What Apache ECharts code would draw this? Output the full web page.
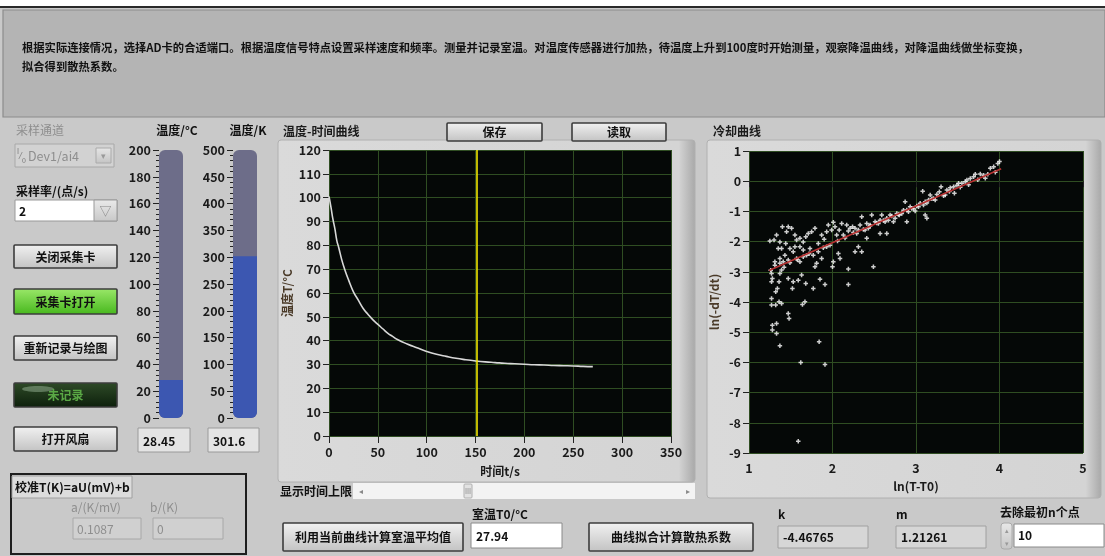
<!DOCTYPE html>
<html><head><meta charset="utf-8">
<script src="https://cdn.jsdelivr.net/npm/echarts/dist/echarts.min.js"></script>
<style>html,body{margin:0;padding:0;background:#fff}#c{width:1105px;height:556px}</style>
</head><body><div id="c"></div>
<script>
// ---------- data ----------
const instructionLine1 = '根据实际连接情况，选择AD卡的合适端口。根据温度信号特点设置采样速度和频率。测量并记录室温。对温度传感器进行加热，待温度上升到100度时开始测量，观察降温曲线，对降温曲线做坐标变换，';
const instructionLine2 = '拟合得到散热系数。';
const timeS = [0,2,4,6,8,10,13,16,20,25,30,35,40,45,50,55,60,65,70,80,90,100,110,120,130,140,150,160,170,180,190,200,210,220,230,240,250,260,270];
const tempC = [100.5,96,91,87,82,79,74,70,65.5,60.5,57,53.5,51,48.7,46.8,45,43.2,41.8,40.5,38.6,37,35.5,34.3,33.4,32.6,32,31.5,31.1,30.8,30.5,30.3,30.1,29.9,29.8,29.6,29.5,29.4,29.2,29.1];
const cursorTime = 151.5;
const timeTicks = {min:0,max:350,interval:50};
const tempTicks = {min:0,max:120,interval:10};
const lnDiff = [4.0,3.98,3.93,3.89,3.86,3.81,3.77,3.71,3.69,3.65,3.61,3.59,3.55,3.51,3.49,3.45,3.46,3.41,3.37,3.35,3.30,3.28,3.25,3.23,3.21,3.17,3.15,3.11,3.08,3.09,3.05,3.03,2.99,2.97,2.93,2.91,2.87,2.85,2.83,2.80,2.77,2.75,2.73,2.69,2.67,2.65,2.63,2.59,2.57,2.55,2.51,2.47,2.45,2.43,2.41,2.39,2.35,2.33,2.31,2.29,2.27,2.24,2.21,2.19,2.17,2.13,2.11,2.08,2.05,2.03,2.01,1.99,1.95,1.93,1.90,1.87,1.83,1.79,1.75,1.71,1.68,1.65,1.61,1.57,1.55,1.51,1.47,1.45,1.40,1.37,1.33,1.30,1.25,
  2.07,2.09,2.01,2.00,2.19,2.49,2.35,2.31,2.19,1.91,1.85,1.77,1.68,1.63,1.59,1.53,1.52,1.47,1.41,1.39,1.37,1.36,1.34,1.32,1.31,1.28,1.27,1.27,1.27,1.27,1.32,1.36,1.39,1.33,1.28,1.28,1.33,1.37,1.47,1.48,1.64,1.67,1.84,1.62,1.91,1.59,1.37,1.43,1.47,1.53,1.61,1.65,1.69,1.73,1.77,1.81,1.83,1.87,1.93,1.79,1.61,1.57,1.35,1.39,1.49,1.55,1.65,1.44,1.37,1.31,
  2.27,2.41,2.57,2.65,2.89,3.11,3.13,3.95,3.83,3.74,3.63,3.53,3.40,3.33,3.19,3.13,3.01,2.95,2.89,2.79,2.71,2.61,2.53,2.45,2.37,2.25,2.15,2.06,1.97,1.89,1.72,1.58,1.49,1.42,1.26];
const lnRate = [0.65,0.59,0.48,0.43,0.23,0.20,0.24,0.23,0.15,0.09,0.04,-0.02,-0.07,-0.07,-0.13,-0.18,-0.40,-0.22,-0.29,-0.46,-0.18,-0.35,-0.44,-0.62,-0.57,-0.46,-0.62,-0.68,-0.33,-0.79,-0.73,-0.85,-0.99,-0.90,-0.85,-1.01,-0.68,-0.96,-1.07,-1.12,-1.07,-1.23,-1.34,-1.12,-1.29,-1.23,-1.34,-1.12,-1.29,-1.40,-1.34,-1.12,-1.45,-1.56,-1.40,-1.62,-1.18,-1.45,-1.62,-1.73,-1.56,-1.51,-1.56,-1.65,-1.45,-1.78,-1.40,-1.62,-1.78,-1.51,-1.36,-1.62,-1.45,-1.67,-1.92,-1.78,-2.06,-1.56,-1.67,-1.73,-1.84,-2.01,-1.89,-1.95,-1.78,-1.56,-1.51,-1.67,-1.51,-2.01,-1.78,-1.95,-1.98,
  -2.39,-2.56,-2.67,-2.83,-2.91,-2.83,-2.34,-2.17,-3.42,-3.42,-3.25,-3.55,-3.39,-3.11,-3.28,-3.33,-3.55,-3.22,-2.67,-2.94,-3.06,-3.33,-3.55,-3.66,-2.78,-3.22,-3.06,-3.33,-3.88,-4.10,-4.10,-3.99,-4.05,-4.71,-4.77,-4.93,-5.04,-5.45,-4.38,-4.55,-4.08,-3.99,-5.32,-6.0,-6.07,-8.61,-2.72,-2.45,-2.61,-2.34,-2.17,-2.28,-2.45,-2.23,-2.45,-2.72,-2.34,-2.56,-2.17,-2.83,-2.67,-2.56,-2.23,-2.23,-2.23,-2.17,-2.50,-2.06,-2.56,-2.67,
  -2.34,-1.89,-1.73,-1.73,-1.34,-1.12,-1.23,0.30,0.10,0.05,-0.12,-0.20,-0.34,-0.48,-0.58,-0.72,-0.82,-0.90,-0.95,-1.10,-1.15,-1.30,-1.38,-1.48,-1.60,-1.70,-1.88,-1.98,-2.12,-2.20,-2.40,-2.60,-2.70,-2.85,-2.95];
const fitLine = [[1.24,-2.96],[4.02,0.41]];
const lnXTicks = {min:1,max:5,interval:1};
const lnYTicks = {min:-9,max:1,interval:1};
const tempCNow = 28.45, tempKNow = 301.6;
const scaleC = {min:0,max:200,interval:20};
const scaleK = {min:0,max:500,interval:50};
const roomTemp = '27.94', fitK = '-4.46765', fitM = '1.21261', dropN = '10';
const calibA = '0.1087', calibB = '0', sampleRate = '2', channel = 'Dev1/ai4';

// ---------- helpers ----------
const F = '"Noto Sans CJK SC","Noto Sans",sans-serif';
function R(x,y,w,h,fill,stroke,lw,r,z){return {type:'rect',silent:true,z:z==null?-5:z,shape:{x:x,y:y,width:w,height:h,r:r||0},style:{fill:fill,stroke:stroke||null,lineWidth:lw||0}};}
function T(x,y,s,size,color,weight,align,z){return {type:'text',silent:true,z:z==null?10:z,x:x,y:y,style:{text:s,fill:color||'#111',font:(weight||'bold')+' '+(size||12)+'px '+F,textAlign:align||'left',textVerticalAlign:'middle',align:align||'left',verticalAlign:'middle'}};}
function grad(a,b){return {type:'linear',x:0,y:0,x2:0,y2:1,colorStops:[{offset:0,color:a},{offset:1,color:b}]};}
function button(x,y,w,h,label,fill,color){
  return [R(x,y,w,h,fill||grad('#f2f2f2','#c2c2c2'),'#3c3c3c',1.6,1,5), T(x+w/2,y+h/2+0.5,label,12,color||'#111','bold','center',11)];
}
const g = [];
// page background
g.push(R(0,0,1105,556,'#c9c9c9',null,0,0,-20));
g.push(R(0,0,1105,6,'#ffffff',null,0,0,-19));
g.push(R(0,6,1105,2,'#2a2a2a',null,0,0,-19));
// instruction panel
g.push(R(3,10,1102,107,'#b4b4b4','#8c8c8c',1.2,0,-18));
g.push(T(22,48,instructionLine1,11.3,'#111','bold'));
g.push(T(22,67,instructionLine2,11.3,'#111','bold'));
// chart frames
g.push(R(278,140,417,342,{type:'linear',x:0,y:0,x2:1,y2:0,colorStops:[{offset:0,color:'#dadada'},{offset:0.96,color:'#d4d4d4'},{offset:1,color:'#a8a8a8'}]},'#b0b0b0',1,3,-15));
g.push(R(707,140,394,358,{type:'linear',x:0,y:0,x2:1,y2:0,colorStops:[{offset:0,color:'#dadada'},{offset:0.96,color:'#d4d4d4'},{offset:1,color:'#a8a8a8'}]},'#b0b0b0',1,3,-15));
g.push(T(283,131,'温度-时间曲线',12,'#1a1a1a'));
g.push(T(713,131,'冷却曲线',12,'#1a1a1a'));
g.push(...button(447,123,95,18,'保存'));
g.push(...button(572,123,94,18,'读取'));
// left controls
g.push(T(16,130,'采样通道',12,'#8e8e8e','normal'));
g.push(R(15,144,99,23,'#d2d2d2','#a8a8a8',1,0,5));
g.push(T(17,151,'I',7,'#777','normal','left',11));
g.push(T(20,156,'⁄',8,'#777','normal','left',11));
g.push(T(22,160,'0',7,'#777','normal','left',11));
g.push(T(28,156,channel,12.5,'#8e8e8e','normal','left',11));
g.push(R(96,148,15,15,grad('#e6e6e6','#c4c4c4'),'#aaa',1,0,6));
g.push(T(103.5,156,'▾',9,'#999','normal','center',11));
g.push(T(16,191,'采样率/(点/s)',12,'#111'));
g.push(R(15,200,102,21,'#ffffff','#999',1,0,5));
g.push(T(19,211,sampleRate,12,'#111'));
g.push(R(94,200,23,21,grad('#eaeaea','#c8c8c8'),'#999',1,0,6));
g.push(T(105.5,211,'▽',12,'#888','normal','center',11));
g.push(...button(14,245,103,23,'关闭采集卡'));
g.push(...button(14,289,103,25,'采集卡打开',grad('#9be86a','#46b71c')));
g.push(...button(14,336,103,24,'重新记录与绘图'));
g.push(...button(14,383,103,24,'未记录',grad('#2f4b28','#0c1f0b'),'#5aa845'));
g.push({type:'ellipse',silent:true,z:7,shape:{cx:38,cy:389,rx:16,ry:3},style:{fill:'rgba(200,230,200,0.35)'}});
g.push(...button(14,427,103,24,'打开风扇'));
// thermometer headers & readouts
g.push(T(177,130,'温度/°C',12,'#111','bold','center'));
g.push(T(248,130,'温度/K',12,'#111','bold','center'));
g.push(R(138,428,52,24,'#e4e4e4','#9a9a9a',1,0,5));
g.push(T(143,441,String(tempCNow),12,'#111'));
g.push(R(208,428,51,24,'#e4e4e4','#9a9a9a',1,0,5));
g.push(T(213,441,String(tempKNow),12,'#111'));
// calibration group
g.push(R(11,474,235,80,null,'#1e1e1e',2,0,4));
g.push(R(12,476,120,22,'#dcdcdc','#a0a0a0',1,0,5));
g.push(T(15,487,'校准T(K)=aU(mV)+b',12,'#111'));
g.push(T(71,507,'a/(K/mV)',12,'#8e8e8e','normal'));
g.push(T(150,507,'b/(K)',12,'#8e8e8e','normal'));
g.push(R(73,518,68,21,'#d0d0d0','#a8a8a8',1,0,5));
g.push(T(77,529,calibA,12,'#8e8e8e','normal'));
g.push(R(153,518,70,21,'#d0d0d0','#a8a8a8',1,0,5));
g.push(T(157,529,calibB,12,'#8e8e8e','normal'));
// slider
g.push(T(280,491,'显示时间上限',12,'#111'));
g.push(R(353,483,342,16,'#f3f3f3',null,0,0,5));
g.push(T(361,491,'◂',8,'#888','normal','center',11));
g.push(T(688,491,'▸',8,'#888','normal','center',11));
g.push(R(464,484,8,14,'#e2e2e2','#b0b0b0',1,1,6));
g.push(T(468,491,'III',7,'#888','normal','center',11));
// bottom middle
g.push(...button(283,523,180,28,'利用当前曲线计算室温平均值'));
g.push(T(472,514,'室温T0/°C',12,'#111'));
g.push(R(471,523,91,25,'#ffffff','#8a8a8a',1,0,5));
g.push(T(476,536,roomTemp,12,'#111'));
g.push(...button(589,523,164,28,'曲线拟合计算散热系数'));
g.push(T(778,514,'k',12,'#111'));
g.push(R(778,526,90,22,'#d6d6d6','#a0a0a0',1,0,5));
g.push(T(783,537,fitK,12,'#111'));
g.push(T(896,514,'m',12,'#111'));
g.push(R(896,526,90,22,'#d6d6d6','#a0a0a0',1,0,5));
g.push(T(901,537,fitM,12,'#111'));
g.push(T(1000,512,'去除最初n个点',12,'#111'));
g.push(R(1001,523,11,26,grad('#e8e8e8','#c6c6c6'),'#aaa',1,3,5));
g.push(T(1006.5,530,'▴',7,'#999','normal','center',11));
g.push(T(1006.5,543,'▾',7,'#999','normal','center',11));
g.push(R(1014,524,90,23,'#ffffff','#8a8a8a',1,0,5));
g.push(T(1018,535.5,dropN,12,'#111'));

const axisLbl = {color:'#1a1a1a',fontSize:12.5,fontWeight:'bold',fontFamily:F};
const gridLine = {show:true,lineStyle:{color:'#2f4d22',width:1}};
function thermoAxis(sc){return {type:'value',gridIndex:0,min:sc.min,max:sc.max,interval:sc.interval,
  axisLine:{show:false},axisTick:{show:true,length:6,lineStyle:{color:'#222'}},
  minorTick:{show:true,splitNumber:5,length:3,lineStyle:{color:'#222'}},
  splitLine:{show:false},axisLabel:Object.assign({margin:8},axisLbl)};}

const option = {
  animation:false,
  backgroundColor:'#c9c9c9',
  graphic:{elements:g},
  grid:[
    {left:329,top:150,width:342,height:286,show:true,backgroundColor:'#050807',borderWidth:0},
    {left:749,top:151,width:334,height:302,show:true,backgroundColor:'#050807',borderWidth:0},
    {left:159,top:150,width:24,height:268},
    {left:233,top:150,width:24,height:268}
  ],
  xAxis:[
    {type:'value',gridIndex:0,min:timeTicks.min,max:timeTicks.max,interval:timeTicks.interval,
     name:'时间t/s',nameLocation:'middle',nameGap:29,nameTextStyle:{color:'#1a1a1a',fontSize:12,fontWeight:'bold',fontFamily:F},
     axisLine:{show:false},axisTick:{show:true,length:7,lineStyle:{color:'#222'}},splitLine:gridLine,axisLabel:Object.assign({margin:10},axisLbl)},
    {type:'value',gridIndex:1,min:lnXTicks.min,max:lnXTicks.max,interval:lnXTicks.interval,
     name:'ln(T-T0)',nameLocation:'middle',nameGap:27,nameTextStyle:{color:'#1a1a1a',fontSize:12,fontWeight:'bold',fontFamily:F},
     axisLine:{show:false},axisTick:{show:true,length:6,lineStyle:{color:'#222'}},splitLine:gridLine,axisLabel:Object.assign({margin:9},axisLbl)},
    {type:'category',gridIndex:2,data:['C'],show:false},
    {type:'category',gridIndex:3,data:['K'],show:false}
  ],
  yAxis:[
    {type:'value',gridIndex:0,min:tempTicks.min,max:tempTicks.max,interval:tempTicks.interval,
     name:'温度T/°C',nameLocation:'middle',nameGap:36,nameTextStyle:{color:'#4a3a28',fontSize:12,fontWeight:'bold',fontFamily:F},
     axisLine:{show:false},axisTick:{show:true,length:6,lineStyle:{color:'#222'}},splitLine:gridLine,axisLabel:Object.assign({margin:8},axisLbl)},
    {type:'value',gridIndex:1,min:lnYTicks.min,max:lnYTicks.max,interval:lnYTicks.interval,
     name:'ln(-dT/dt)',nameLocation:'middle',nameGap:29,nameTextStyle:{color:'#4a3a28',fontSize:12,fontWeight:'bold',fontFamily:F},
     axisLine:{show:false},axisTick:{show:true,length:6,lineStyle:{color:'#222'}},splitLine:gridLine,axisLabel:Object.assign({margin:8},axisLbl)},
    Object.assign(thermoAxis(scaleC),{gridIndex:2}),
    Object.assign(thermoAxis(scaleK),{gridIndex:3})
  ],
  series:[
    {type:'line',xAxisIndex:0,yAxisIndex:0,data:timeS.map((t,i)=>[t,tempC[i]]),showSymbol:false,smooth:true,
     lineStyle:{color:'#d8d8d8',width:1.6},
     markLine:{silent:true,symbol:'none',label:{show:false},lineStyle:{color:'#f2e600',width:1.6,type:'solid'},data:[{xAxis:cursorTime}]}},
    {type:'scatter',xAxisIndex:1,yAxisIndex:1,data:lnDiff.map((x,i)=>[x,lnRate[i]]),
     symbol:'path://M1,0H2V1H3V2H2V3H1V2H0V1H1Z',symbolSize:4.5,itemStyle:{color:'#ffffff'}},
    {type:'line',xAxisIndex:1,yAxisIndex:1,data:fitLine,showSymbol:false,lineStyle:{color:'#b83232',width:1.6},z:3},
    {type:'bar',xAxisIndex:2,yAxisIndex:2,data:[tempCNow],barWidth:'100%',showBackground:true,
     backgroundStyle:{color:'#6d6d89',borderRadius:6},itemStyle:{color:'#3c57b1',borderRadius:[0,0,6,6]}},
    {type:'bar',xAxisIndex:3,yAxisIndex:3,data:[tempKNow],barWidth:'100%',showBackground:true,
     backgroundStyle:{color:'#6d6d89',borderRadius:6},itemStyle:{color:'#3c57b1',borderRadius:[0,0,6,6]}}
  ]
};
const chart = echarts.init(document.getElementById('c'),null,{renderer:'canvas'});
chart.setOption(option);
</script></body></html>
